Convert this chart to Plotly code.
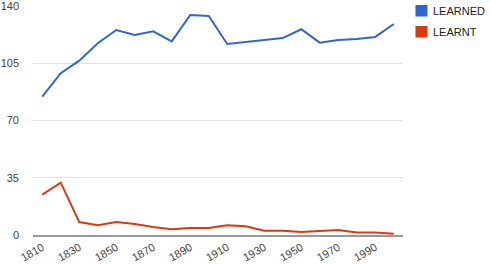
import plotly.graph_objects as go

years = list(range(1810, 2001, 10))
learned = [84.6, 98.9, 106.6, 117.2, 125.3, 122.3, 124.5, 118.4, 134.5, 133.9,
           116.8, 118.0, 119.2, 120.4, 125.8, 117.6, 119.2, 119.8, 121.1, 129.0]
learnt = [24.7, 32.0, 7.9, 5.9, 7.9, 6.7, 4.9, 3.5, 4.3, 4.3,
          5.9, 5.3, 2.6, 2.6, 1.8, 2.4, 3.1, 1.6, 1.6, 0.8]
series_names = ["LEARNED", "LEARNT"]
colors = ["#3366cc", "#dc3912"]
y_ticks = [0, 35, 70, 105, 140]
x_ticks = list(range(1810, 1991, 20))

W, H = 490, 264
L, R, T, B = 33, 86.5, 6, 29
pw, ph = W - L - R, H - T - B

def px_x(p):
    return (p - L) / pw

def px_y(p):
    return (H - B - p) / ph

fig = go.Figure()
for name, vals, c in zip(series_names, [learned, learnt], colors):
    fig.add_trace(go.Scatter(x=years, y=vals, mode="lines", name=name,
                             line=dict(color=c, width=2), showlegend=False))

# legend (swatches + labels)
for i, (name, c) in enumerate(zip(series_names, colors)):
    top = 5 + 21 * i
    fig.add_shape(type="rect", xref="paper", yref="paper",
                  x0=px_x(416), x1=px_x(428), y0=px_y(top + 11.5), y1=px_y(top),
                  fillcolor=c, line=dict(width=0))
    fig.add_annotation(xref="paper", yref="paper", x=px_x(432), y=px_y(top + 5.75),
                       text=name, showarrow=False, xanchor="left", yanchor="middle",
                       font=dict(size=11, color="#222"))

font = "Liberation Sans, Arial, sans-serif"
fig.update_layout(
    width=W, height=H,
    margin=dict(l=L, r=R, t=T, b=B),
    paper_bgcolor="white", plot_bgcolor="white",
    font=dict(family=font, size=11, color="#444"),
    showlegend=False,
    xaxis=dict(range=[1805, 2005], tickvals=x_ticks, tickangle=-30,
               showgrid=False, zeroline=False, showline=True, automargin=False,
               linecolor="#999", linewidth=2, ticks="", ticklabelstandoff=0,
               ticklabeloverflow="allow",
               tickfont=dict(size=11, color="#444")),
    yaxis=dict(range=[0, 140], tickvals=y_ticks, showgrid=True, automargin=False,
               gridcolor="#e0e0e0", gridwidth=1, zeroline=False,
               ticks="", ticklabelstandoff=13, ticklabeloverflow="allow",
               tickfont=dict(size=11, color="#444")),
)
fig.write_html("out.html")
